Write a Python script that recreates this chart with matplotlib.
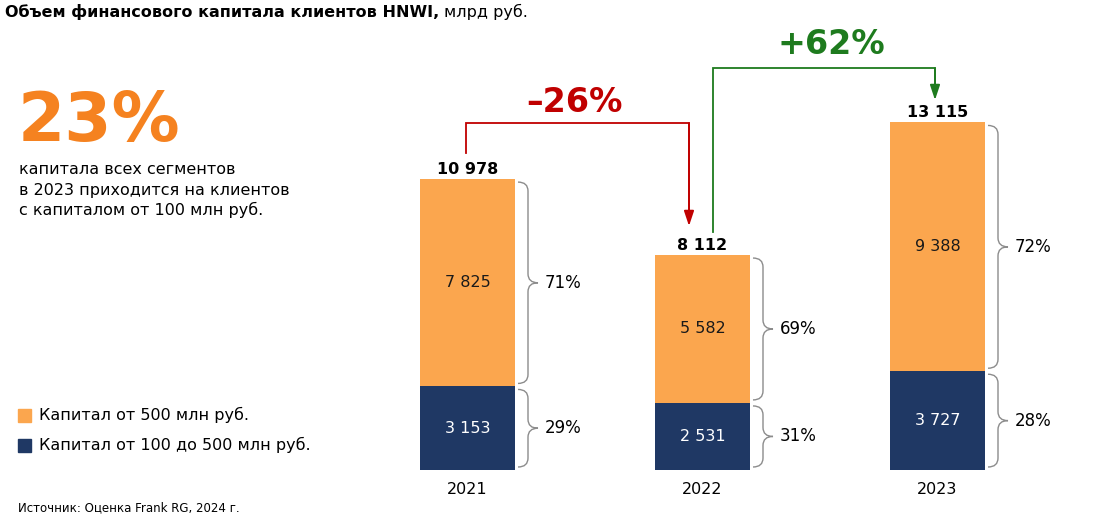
import matplotlib
matplotlib.use("Agg")
import matplotlib.pyplot as plt
from matplotlib.path import Path
from matplotlib.patches import PathPatch

plt.rcParams['font.family'] = ['DejaVu Sans']

# ---- data ----
years = ['2021', '2022', '2023']
cap_500 = [7825, 5582, 9388]          # Капитал от 500 млн руб.
cap_100_500 = [3153, 2531, 3727]      # Капитал от 100 до 500 млн руб.
totals = [10978, 8112, 13115]
share_500 = ['71%', '69%', '72%']
share_100 = ['29%', '31%', '28%']
changes = ['\u201326%', '+62%']
legend_labels = ['Капитал от 500 млн руб.', 'Капитал от 100 до 500 млн руб.']

ORANGE = '#FBA64E'
NAVY = '#1F3864'
RED = '#C00000'
GREEN = '#1E7B1E'
BIG_ORANGE = '#F58220'
GRAY = '#8C8C8C'

W, H = 1116, 523
fig = plt.figure(figsize=(W / 100, H / 100), dpi=100)
ax = fig.add_axes([0, 0, 1, 1])
px_per_x = 235.0
px_per_y = 0.0265
x0px, y0px = 467.5, 470
ax.set_xlim(-x0px / px_per_x, (W - x0px) / px_per_x)
ax.set_ylim(-(H - y0px) / px_per_y, y0px / px_per_y)
ax.axis('off')

def fmt(v):
    return f"{v:,}".replace(',', ' ')

xs = list(range(len(years)))
bw = 95 / px_per_x
ax.bar(xs, cap_100_500, width=bw, color=NAVY, label=legend_labels[1])
ax.bar(xs, cap_500, width=bw, bottom=cap_100_500, color=ORANGE, label=legend_labels[0])

def brace(xl, ylo, yhi):
    w = 20 / px_per_x
    r = 9 / px_per_y
    ym = (ylo + yhi) / 2
    xm = xl + w / 2
    verts = [(xl, yhi), (xm, yhi), (xm, yhi - r),
             (xm, ym + r),
             (xm, ym), (xl + w, ym),
             (xm, ym), (xm, ym - r),
             (xm, ylo + r),
             (xm, ylo), (xl, ylo)]
    codes = [Path.MOVETO, Path.CURVE3, Path.CURVE3,
             Path.LINETO,
             Path.CURVE3, Path.CURVE3,
             Path.CURVE3, Path.CURVE3,
             Path.LINETO,
             Path.CURVE3, Path.CURVE3]
    ax.add_patch(PathPatch(Path(verts, codes), fill=False, edgecolor=GRAY, lw=1.0))

gap = 3 / px_per_y
for i in xs:
    lo = cap_100_500[i]
    tot = totals[i]
    ax.text(i, lo / 2, fmt(cap_100_500[i]), ha='center', va='center', color='white', fontsize=11.5)
    ax.text(i, lo + cap_500[i] / 2, fmt(cap_500[i]), ha='center', va='center', color='#1a1a1a', fontsize=11.5)
    ax.text(i, tot + 2 / px_per_y, fmt(tot), ha='center', va='bottom', color='black',
            fontsize=11.5, fontweight='bold')
    ax.text(i, -12 / px_per_y, years[i], ha='center', va='top', color='black', fontsize=11.5)
    xr = i + bw / 2 + 3 / px_per_x
    brace(xr, 0 + gap, lo - gap)
    brace(xr, lo + gap, tot - gap)
    ax.text(xr + 27 / px_per_x, lo / 2, share_100[i], ha='left', va='center', fontsize=12)
    ax.text(xr + 27 / px_per_x, lo + cap_500[i] / 2, share_500[i], ha='left', va='center', fontsize=12)

def change_arrow(x_start, x_end, y_start, y_top, y_tip, color, label, lx, ly):
    ax.plot([x_start, x_start, x_end, x_end], [y_start, y_top, y_top, y_tip + 400],
            color=color, lw=1.3, solid_joinstyle='miter')
    ax.annotate('', xy=(x_end, y_tip), xytext=(x_end, y_top),
                arrowprops=dict(arrowstyle='-|>,head_length=0.9,head_width=0.3',
                                color=color, lw=1.3, shrinkA=0, shrinkB=0))
    ax.text(lx, ly, label, ha='center', va='center', color=color, fontsize=24, fontweight='bold')

change_arrow(0 - 1.5 / px_per_x, 1 - 13.5 / px_per_x,
             totals[0] + 984, totals[0] + 2116, totals[1] + 1096,
             RED, changes[0], 0.455, 13850)
change_arrow(1 + 10.5 / px_per_x, 2 - 2.5 / px_per_x,
             totals[1] + 869, totals[2] + 2055, totals[2] + 847,
             GREEN, changes[1], 1.547, 16050)

def ft(xp, yp, s, **kw):
    return fig.text(xp / W, 1 - yp / H, s, **kw)

bold_t = ft(5, 12, 'Объем финансового капитала клиентов HNWI,', fontsize=11.5, fontweight='bold',
            va='center', ha='left')
fig.canvas.draw()
r = fig.canvas.get_renderer()
bb = bold_t.get_window_extent(r)
fig.text((bb.x1 + 5) / W, 1 - 12 / H, 'млрд руб.', fontsize=11.5, va='center', ha='left')

ft(18, 122, '23%', fontsize=49, fontweight='bold', color=BIG_ORANGE, va='center', ha='left')
ft(19, 170, 'капитала всех сегментов', fontsize=11.5, va='center', ha='left')
ft(19, 190, 'в 2023 приходится на клиентов', fontsize=11.5, va='center', ha='left')
ft(19, 210, 'с капиталом от 100 млн руб.', fontsize=11.5, va='center', ha='left')

for yp, col, lab in [(415, ORANGE, legend_labels[0]), (445, NAVY, legend_labels[1])]:
    fig.patches.append(plt.Rectangle((18 / W, 1 - (yp + 7) / H), 13 / W, 13 / H,
                                     transform=fig.transFigure, color=col, figure=fig))
    ft(39, yp, lab, fontsize=11.5, va='center', ha='left')

ft(18, 508, 'Источник: Оценка Frank RG, 2024 г.', fontsize=8.5, va='center', ha='left')

fig.savefig('out.png', dpi=100)
